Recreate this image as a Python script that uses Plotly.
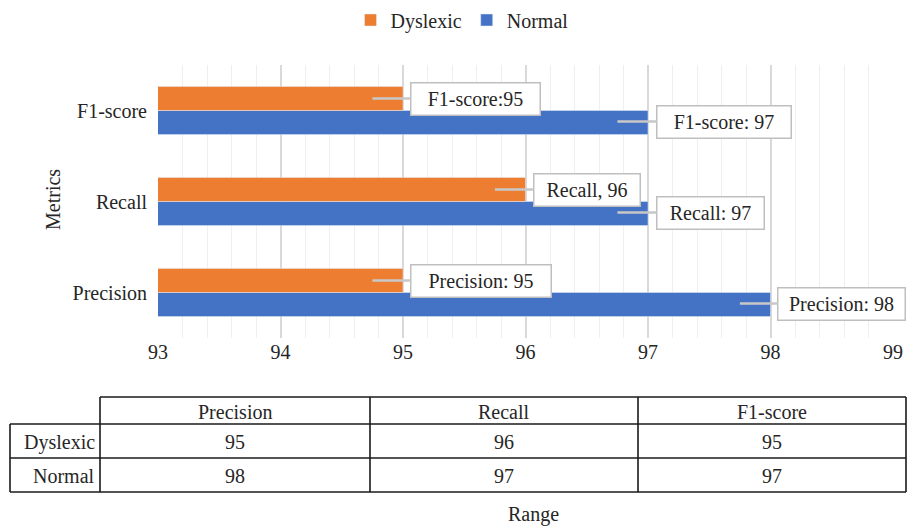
import plotly.graph_objects as go

metrics = ["Precision", "Recall", "F1-score"]
dyslexic = [95, 96, 95]
normal = [98, 97, 97]
series_names = ["Dyslexic", "Normal"]
dys_labels = ["Precision: 95", "Recall, 96", "F1-score:95"]
nor_labels = ["Precision: 98", "Recall: 97", "F1-score: 97"]
x_ticks = [93, 94, 95, 96, 97, 98, 99]

ORANGE = "#ED7D31"
BLUE = "#4472C4"
FONT = "Liberation Serif"
W, H = 909, 526
L, T = 158, 65
R = W - 893
B = H - 338
PW, PH = W - L - R, H - T - B


def px(x):
    # page pixel -> paper coordinate
    return (x - L) / PW


def py(y):
    return (H - B - y) / PH


fig = go.Figure()
fig.add_trace(go.Bar(y=metrics, x=normal, name=series_names[1], orientation="h",
                     marker=dict(color=BLUE), legendrank=2))
fig.add_trace(go.Bar(y=metrics, x=dyslexic, name=series_names[0], orientation="h",
                     marker=dict(color=ORANGE), legendrank=1))

annotations = []
# callouts
dys_ax = [109, 92, 103]
dys_w = [142, 108, 131]
nor_ax = [102, 93, 107]
nor_w = [129, 109, 136]
for i, m in enumerate(metrics):
    for val, lab, ax, w, ys in ((dyslexic[i], dys_labels[i], dys_ax[i], dys_w[i], 12),
                                (normal[i], nor_labels[i], nor_ax[i], nor_w[i], -11)):
        annotations.append(dict(
            x=val - 0.25, y=m, xref="x", yref="y", text=lab, showarrow=True,
            ax=ax, ay=0, axref="pixel", ayref="pixel", yshift=ys,
            arrowhead=0, arrowwidth=2.5, arrowcolor="#C8C8C8",
            bgcolor="white", bordercolor="#BFBFBF", borderwidth=1.5, borderpad=0,
            width=w - 3, height=31,
            font=dict(family=FONT, size=20, color="#262626")))

# table
shapes = []
lc = "#1a1a1a"


def hline(y, x0, x1):
    shapes.append(dict(type="line", xref="paper", yref="paper", x0=px(x0), x1=px(x1),
                       y0=py(y), y1=py(y), line=dict(color=lc, width=1.6)))


def vline(x, y0, y1):
    shapes.append(dict(type="line", xref="paper", yref="paper", x0=px(x), x1=px(x),
                       y0=py(y0), y1=py(y1), line=dict(color=lc, width=1.6)))


col_x = [100, 370, 638, 906]
row_y = [397, 424, 458, 492]
hline(row_y[0], col_x[0], col_x[-1])
for yy in row_y[1:]:
    hline(yy, 10, col_x[-1])
vline(10, row_y[1], row_y[-1])
for xx in col_x:
    vline(xx, row_y[0], row_y[-1])

tfont = dict(family=FONT, size=20, color="#262626")


def label(x, y, text, xanchor="center", **kw):
    annotations.append(dict(x=px(x), y=py(y), xref="paper", yref="paper", text=text,
                            showarrow=False, xanchor=xanchor, yanchor="middle",
                            font=tfont, **kw))


for j, m in enumerate(metrics):
    cx = (col_x[j] + col_x[j + 1]) / 2
    label(cx, (row_y[0] + row_y[1]) / 2 + 1, m)
    for k, vals in enumerate((dyslexic, normal)):
        label(cx, (row_y[k + 1] + row_y[k + 2]) / 2 + 1, str(vals[j]))
for k, name in enumerate(series_names):
    label(97, (row_y[k + 1] + row_y[k + 2]) / 2 + 1, name, xanchor="right")
label(533, 514, "Range")
label(53, 200, "Metrics", textangle=-90)

fig.update_layout(
    width=W, height=H, margin=dict(l=L, r=R, t=T, b=B, autoexpand=False),
    paper_bgcolor="white", plot_bgcolor="white",
    barmode="group", bargap=0.47, bargroupgap=0,
    font=dict(family=FONT, size=20, color="#262626"),
    showlegend=True,
    legend=dict(orientation="h", x=px(462), xanchor="center", y=py(20), yanchor="middle",
                font=dict(family=FONT, size=20, color="#262626"), itemwidth=30),
    xaxis=dict(range=[93, 99], tickvals=x_ticks, showgrid=True, gridcolor="#D9D9D9",
               gridwidth=1.5, zeroline=False, showline=False, ticks="",
               minor=dict(dtick=0.2, showgrid=True, gridcolor="#EFEFEF", gridwidth=1),
               tickfont=dict(family=FONT, size=20, color="#262626")),
    yaxis=dict(categoryorder="array", categoryarray=metrics, showgrid=False,
               showline=False, ticks="", ticksuffix="  ",
               tickfont=dict(family=FONT, size=20, color="#262626")),
    shapes=shapes, annotations=annotations,
)

fig.write_html("out.html", config={"displayModeBar": False},
               post_script="document.body.style.margin='0';document.body.style.overflow='hidden';")
